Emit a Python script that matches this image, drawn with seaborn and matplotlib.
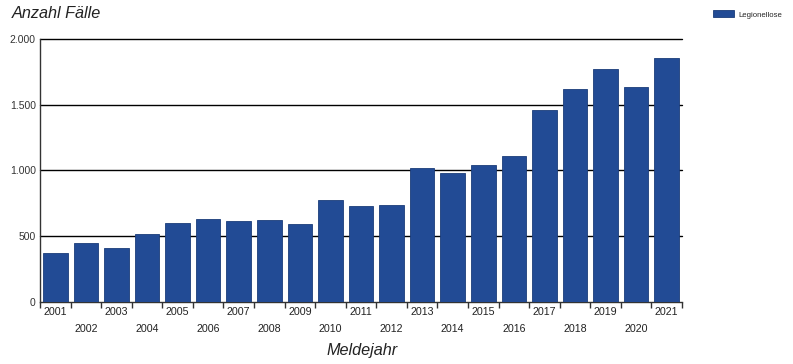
import numpy as np
import pandas as pd
import matplotlib
matplotlib.use("Agg")
import matplotlib.pyplot as plt
import seaborn as sns
from matplotlib.ticker import FuncFormatter, FixedLocator

# ── DATA ────────────────────────────────────────────────────
years = list(range(2001, 2022))
cases = [368, 447, 409, 515, 601, 629, 614, 622, 594, 774, 726,
         734, 1015, 979, 1038, 1111, 1459, 1621, 1773, 1634, 1852]
y_ticks = [0, 500, 1000, 1500, 2000]
series_name = "Legionellose"

df = pd.DataFrame({"Meldejahr": [str(y) for y in years], "Faelle": cases})

sns.set_theme(style="white")
plt.rcParams["font.family"] = ["Liberation Sans", "DejaVu Sans"]

bar_color = "#224b95"

fig = plt.figure(figsize=(7.93, 3.64), dpi=100)
ax = fig.add_axes([40 / 793, 1 - 301.7 / 364, 642 / 793, 262.7 / 364])

sns.barplot(data=df, x="Meldejahr", y="Faelle", color=bar_color,
            saturation=1, width=0.8, edgecolor="#1a3c7a", linewidth=0.6,
            ax=ax, zorder=3, label=series_name)

ax.set_xlim(-0.5, len(years) - 0.5)
ax.set_ylim(0, 2000)

# horizontal grid lines
ax.set_yticks(y_ticks)
ax.yaxis.set_major_formatter(FuncFormatter(lambda v, p: f"{int(v):,}".replace(",", ".")))
for t in y_ticks[1:]:
    ax.axhline(t, color="black", lw=1.0, zorder=2, clip_on=False)

# x labels in two staggered rows, ticks at the category boundaries
ax.set_xticks(range(len(years)))
ax.set_xticklabels([str(y) if y % 2 == 1 else "\n" + str(y) for y in years])
ax.xaxis.set_minor_locator(FixedLocator(np.arange(-0.5, len(years), 1.0)))
ax.tick_params(axis="x", which="major", length=0, pad=4, labelsize=7.7,
               labelcolor="#222222")
ax.tick_params(axis="x", which="minor", length=4, width=1, color="#333333",
               direction="out", bottom=True)
ax.tick_params(axis="y", length=0, pad=3, labelsize=7.5, labelcolor="#333333")
for lbl in ax.get_xticklabels():
    lbl.set_linespacing(1.85)

for side in ["top", "right"]:
    ax.spines[side].set_visible(False)
for side in ["left", "bottom"]:
    ax.spines[side].set_color("#333333")
    ax.spines[side].set_linewidth(1.0)

ax.set_xlabel("")
ax.set_ylabel("")

fig.text(12 / 793, 1 - 14 / 364, "Anzahl Fälle", fontsize=11.7, style="italic",
         color="#222222", ha="left", va="center")
fig.text(362 / 793, 1 - 350 / 364, "Meldejahr", fontsize=11.7, style="italic",
         color="#222222", ha="center", va="center")

leg = ax.legend(loc="upper left", bbox_to_anchor=(708 / 793, 1 - 5 / 364),
                bbox_transform=fig.transFigure, frameon=False, fontsize=5.6,
                handlelength=2.6, handleheight=1.0, handletextpad=0.6,
                borderpad=0.2)

fig.savefig("out.png", dpi=100)
